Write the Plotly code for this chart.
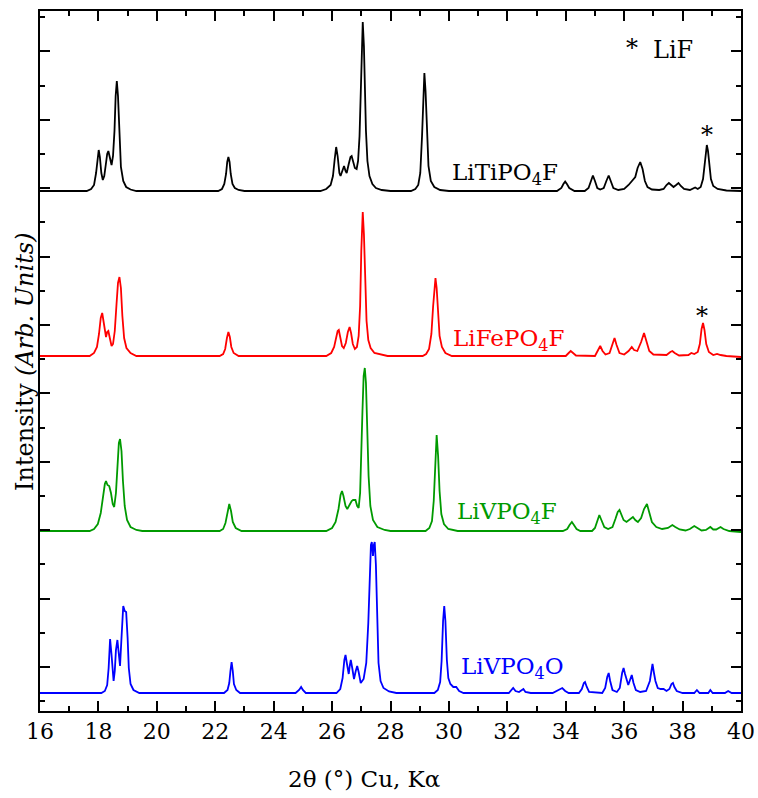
import plotly.graph_objects as go

# ---------------- data ----------------
# 2-theta positions (deg) and intensities above each pattern's own baseline (arb. units)
ti_x = [16.0, 17.6, 17.75, 17.85, 17.92, 17.97, 18.01, 18.05, 18.1, 18.15, 18.2, 18.26, 18.3, 18.34,
        18.39, 18.45, 18.5, 18.55, 18.59, 18.63, 18.67, 18.71, 18.77, 18.85, 18.95, 19.1, 19.3,
        22.1, 22.23, 22.31, 22.37, 22.41, 22.45, 22.49, 22.53, 22.59, 22.67, 22.8, 23.0,
        25.6, 25.8, 25.95, 26.03, 26.09, 26.14, 26.19, 26.25, 26.29, 26.35, 26.41, 26.46, 26.5, 26.57,
        26.63, 26.67, 26.72, 26.78, 26.84, 26.89, 26.94, 26.98, 27.01, 27.05, 27.09, 27.12, 27.16,
        27.21, 27.28, 27.38, 27.5, 27.7, 28.0,
        28.7, 28.85, 28.95, 29.02, 29.08, 29.12, 29.16, 29.2, 29.24, 29.3, 29.38, 29.5, 29.7, 30.0,
        33.7, 33.85, 33.92, 33.98, 34.04, 34.12, 34.3,
        34.65, 34.78, 34.86, 34.93, 35.0, 35.08, 35.18, 35.3, 35.39, 35.47, 35.54, 35.63, 35.8,
        36.0, 36.15, 36.28, 36.38, 36.46, 36.55, 36.63, 36.71, 36.8, 36.95, 37.2,
        37.35, 37.45, 37.53, 37.61, 37.69, 37.78, 37.86, 37.94, 38.05, 38.25,
        38.35, 38.43, 38.52, 38.62, 38.7, 38.75, 38.79, 38.83, 38.87, 38.91, 38.97, 39.05, 39.2,
        39.5, 40.0]
ti_y = [0, 0, 2, 6, 18, 35, 41, 34, 18, 11, 15, 28, 37, 40,
        32, 26, 35, 60, 95, 110, 95, 58, 24, 10, 4, 1.5, 0,
        0, 2, 7, 17, 29, 34, 29, 17, 7, 3, 1, 0,
        0, 2, 6, 15, 32, 44, 35, 18, 15, 21, 25, 20, 18, 27,
        34, 35, 29, 23, 22, 30, 55, 100, 145, 169, 145, 105, 60,
        30, 15, 7, 3, 1, 0,
        0, 2, 6, 18, 55, 98, 118, 100, 60, 25, 10, 4, 1, 0,
        0, 3, 7, 9.5, 7, 3, 0,
        0, 3, 10, 15.5, 10, 3, 1.5, 3, 10, 15.5, 10, 3, 1,
        2, 6, 10, 14, 23, 29, 22, 10, 4, 1.5, 1,
        2, 6, 8, 6, 4, 6, 8, 5, 2, 1,
        2, 3.5, 2, 4, 12, 27, 41, 46, 40, 26, 12, 5, 2,
        0.5, 0]

fe_x = [16.0, 17.7, 17.85, 17.95, 18.02, 18.08, 18.13, 18.18, 18.23, 18.26, 18.3, 18.34, 18.39, 18.45,
        18.5, 18.56, 18.62, 18.67, 18.72, 18.77, 18.82, 18.88, 18.96, 19.1, 19.3,
        22.15, 22.27, 22.34, 22.4, 22.45, 22.5, 22.55, 22.63, 22.8,
        25.8, 25.97, 26.07, 26.14, 26.19, 26.23, 26.28, 26.34, 26.4, 26.47, 26.54, 26.6, 26.65, 26.71,
        26.78, 26.85, 26.91, 26.96, 27.0, 27.05, 27.09, 27.13, 27.18, 27.24, 27.32, 27.45, 27.7, 27.9,
        29.1, 29.22, 29.32, 29.4, 29.46, 29.5, 29.54, 29.58, 29.62, 29.68, 29.76, 29.88, 30.1,
        34.0, 34.1, 34.17, 34.25, 34.35,
        35.0, 35.1, 35.18, 35.26, 35.36, 35.5, 35.6, 35.67, 35.74, 35.84, 36.0, 36.15, 36.26, 36.34,
        36.45, 36.58, 36.68, 36.76, 36.86, 37.0, 37.45, 37.58, 37.65, 37.73, 37.88,
        38.2, 38.3, 38.4, 38.52, 38.59, 38.65, 38.7, 38.75, 38.81, 38.9, 39.05, 39.18, 39.3, 39.5, 40.0]
fe_y = [0, 0, 3, 9, 22, 38, 43, 33, 20, 19, 24, 25, 18, 10,
        12, 25, 52, 73, 79, 68, 40, 18, 8, 3, 0,
        0, 2, 7, 18, 24, 19, 9, 3, 0,
        0, 3, 9, 19, 25, 26, 20, 10, 8, 13, 24, 29, 23, 12,
        7, 9, 20, 50, 105, 144, 122, 75, 35, 16, 8, 3, 1, 0,
        0, 2, 7, 22, 50, 68, 78, 68, 45, 20, 9, 3, 0,
        0, 3, 5, 3, 0.5,
        0, 5, 10, 5, 1.5, 3, 11, 18, 11, 3, 1.5, 5, 9, 6,
        5, 14, 23, 14, 5, 1.5, 1, 4, 5, 3, 0.5,
        1, 3, 2, 4, 12, 27, 33, 26, 12, 4, 1, 2, 1, 0, -1]

vf_x = [16.0, 17.7, 17.85, 17.98, 18.08, 18.16, 18.22, 18.26, 18.31, 18.37, 18.43, 18.49, 18.54,
        18.6, 18.65, 18.7, 18.74, 18.79, 18.84, 18.9, 18.98, 19.1, 19.3, 19.5,
        22.15, 22.27, 22.35, 22.42, 22.48, 22.54, 22.6, 22.7, 22.9,
        25.8, 26.0, 26.12, 26.22, 26.29, 26.34, 26.39, 26.46, 26.52, 26.6, 26.67, 26.72, 26.8, 26.86,
        26.91, 26.96, 27.0, 27.04, 27.08, 27.12, 27.16, 27.2, 27.25, 27.31, 27.4, 27.55, 27.8, 28.0,
        29.2, 29.33, 29.42, 29.48, 29.53, 29.58, 29.63, 29.68, 29.74, 29.83, 29.98, 30.3,
        33.9, 34.05, 34.13, 34.21, 34.28, 34.37, 34.5,
        34.9, 35.0, 35.08, 35.15, 35.22, 35.32, 35.45, 35.6, 35.7, 35.78, 35.84, 35.9, 35.98,
        36.08, 36.2, 36.3, 36.38, 36.47, 36.58, 36.68, 36.78, 36.86, 36.95, 37.1, 37.3,
        37.5, 37.65, 37.75, 37.9, 38.1, 38.25, 38.4, 38.5, 38.65, 38.8, 38.95, 39.05, 39.15,
        39.3, 39.4, 39.6, 40.0]
vf_y = [0, 0, 2, 7, 18, 36, 47, 50, 46, 45, 38, 27, 24,
        38, 65, 88, 92, 80, 50, 25, 11, 4, 1, 0,
        0, 2, 8, 20, 27, 20, 9, 3, 0,
        0, 3, 9, 22, 36, 40, 35, 25, 22, 26, 30, 31, 31, 25,
        23, 38, 70, 120, 155, 163, 148, 105, 55, 25, 11, 4, 1, 0,
        0, 3, 10, 30, 70, 96, 75, 40, 17, 7, 2, 0,
        0, 2, 6, 9, 6, 2, 0,
        0, 3, 10, 16, 11, 4, 2, 4, 12, 19, 21, 17, 11,
        9, 12, 14, 11, 9, 13, 22, 27, 19, 9, 4, 2,
        3, 6, 4, 1.5, 0.5, 2, 5, 3, 0.5, 1, 4, 1.5, 1.5,
        4, 2, 0, -1]

vo_x = [16.0, 18.1, 18.22, 18.3, 18.35, 18.4, 18.45, 18.49, 18.52, 18.56, 18.6, 18.65, 18.69, 18.74,
        18.79, 18.85, 18.9, 18.95, 19.0, 19.04, 19.1, 19.2, 19.4,
        22.3, 22.42, 22.48, 22.52, 22.56, 22.6, 22.64, 22.72, 22.85,
        24.75, 24.87, 24.94, 25.0, 25.1,
        26.15, 26.28, 26.36, 26.42, 26.46, 26.51, 26.57, 26.61, 26.64, 26.69, 26.75, 26.81, 26.86, 26.91,
        26.98, 27.08, 27.17, 27.24, 27.29, 27.33, 27.36, 27.4, 27.43, 27.46, 27.5, 27.54, 27.59, 27.66,
        27.76, 27.95, 28.2,
        29.5, 29.62, 29.7, 29.75, 29.8, 29.84, 29.88, 29.93, 29.98, 30.05, 30.15, 30.25, 30.35, 30.5,
        32.05, 32.15, 32.2, 32.28, 32.4, 32.5, 32.55, 32.62, 32.8,
        33.55, 33.7, 33.8, 33.88, 33.98, 34.1,
        34.45, 34.55, 34.62, 34.66, 34.72, 34.8,
        35.25, 35.35, 35.42, 35.47, 35.52, 35.6, 35.75, 35.85, 35.93, 35.98, 36.03, 36.08, 36.14,
        36.2, 36.26, 36.32, 36.4, 36.55, 36.75, 36.88, 36.94, 36.97, 37.02, 37.07, 37.15, 37.25,
        37.35, 37.45, 37.55, 37.62, 37.67, 37.72, 37.8, 38.0,
        38.4, 38.49, 38.58, 38.88, 38.95, 39.03, 39.45, 39.56, 39.68, 40.0]
vo_y = [0, 0, 2, 8, 25, 54, 38, 17, 12, 22, 43, 53, 42, 27,
        55, 87, 82, 81, 55, 25, 9, 3, 0,
        0, 3, 10, 22, 31, 22, 9, 3, 0,
        0, 3, 6, 3, 0,
        0, 4, 15, 33, 38, 29, 19, 28, 33, 25, 14, 22, 27, 21,
        10, 14, 30, 70, 120, 148, 151, 137, 148, 151, 128, 75, 30, 12,
        5, 1.5, 0,
        0, 3, 11, 32, 72, 87, 72, 33, 15, 9, 6, 6, 2, 0,
        0, 4, 5, 2, 1, 3, 4, 1, 0,
        0, 2, 4, 5, 2, 0,
        0, 4, 10, 11, 6, 1,
        0, 5, 16, 20, 12, 3, 1, 5, 20, 25, 19, 14, 8,
        13, 18, 10, 3, 1, 2, 12, 26, 29, 20, 12, 5, 4,
        4, 2, 4, 9, 10, 6, 2, 0,
        0, 3, 0, 0, 3, 0, 0, 2, 0, 0]

series_names = ["LiTiPO<sub>4</sub>F", "LiFePO<sub>4</sub>F", "LiVPO<sub>4</sub>F", "LiVPO<sub>4</sub>O"]
series_x = [ti_x, fe_x, vf_x, vo_x]
series_y = [ti_y, fe_y, vf_y, vo_y]
offsets = [520, 355, 180, 18]          # vertical stacking offsets (arb. units)

# LiF impurity marks (2-theta, intensity incl. offset)
lif_x = [38.83, 38.66]
lif_y = [576, 395]

# ---------------- styling ----------------
colors = ["#000000", "#ff0000", "#009a00", "#0000ff"]
label_x = [30.02, 30.06, 30.2, 30.36]
label_y = [537, 371, 198, 43]
FONT = "DejaVu Serif"

fig = go.Figure()
for xs, ys, off, c in zip(series_x, series_y, offsets, colors):
    fig.add_trace(go.Scatter(x=xs, y=[v + off for v in ys], mode="lines",
                             line=dict(color=c, width=1.8), hoverinfo="skip"))

annotations = []
for name, c, lx, ly in zip(series_names, colors, label_x, label_y):
    annotations.append(dict(x=lx, y=ly, xref="x", yref="y", text=name, showarrow=False,
                            xanchor="left", yanchor="middle",
                            font=dict(family=FONT, size=23, color=c)))
for ax_, ay_ in zip(lif_x, lif_y):
    annotations.append(dict(x=ax_, y=ay_, xref="x", yref="y", text="*", showarrow=False,
                            xanchor="center", yanchor="middle",
                            font=dict(family=FONT, size=24, color="black")))
annotations.append(dict(x=36.27, y=663, xref="x", yref="y", text="*", showarrow=False,
                        xanchor="center", yanchor="middle",
                        font=dict(family=FONT, size=24, color="black")))
annotations.append(dict(x=36.93, y=661, xref="x", yref="y", text="LiF", showarrow=False,
                        xanchor="left", yanchor="middle",
                        font=dict(family=FONT, size=24, color="black")))
annotations.append(dict(x=0.4615, y=-0.097, xref="paper", yref="paper",
                        text="2θ (°) Cu, Kα", showarrow=False,
                        xanchor="center", yanchor="middle",
                        font=dict(family=FONT, size=23, color="black")))
annotations.append(dict(x=-0.0214, y=0.5, xref="paper", yref="paper",
                        text="Intensity <i>(Arb. Units)</i>", showarrow=False, textangle=-90,
                        xanchor="center", yanchor="middle",
                        font=dict(family=FONT, size=24, color="black")))

fig.update_layout(
    template="none",
    width=758, height=798, autosize=False,
    margin=dict(l=40, r=17, t=11, b=87, autoexpand=False),
    paper_bgcolor="white", plot_bgcolor="white",
    showlegend=False,
    annotations=annotations,
    xaxis=dict(range=[16, 40], tick0=16, dtick=2, ticks="inside", ticklen=10, tickwidth=1.5,
               tickcolor="black", showline=True, linecolor="black", linewidth=2,
               mirror="allticks", showgrid=False, zeroline=False, automargin=False,
               tickfont=dict(family=FONT, size=22, color="black"),
               minor=dict(dtick=1, ticks="inside", ticklen=5, tickwidth=1.5, tickcolor="black",
                          showgrid=False)),
    yaxis=dict(range=[0, 700], tick0=44, dtick=68.4, ticks="inside", ticklen=10, tickwidth=1.5,
               tickcolor="black", showline=True, linecolor="black", linewidth=2,
               mirror="allticks", showgrid=False, zeroline=False, showticklabels=False,
               automargin=False,
               minor=dict(tick0=9.8, dtick=34.2, ticks="inside", ticklen=5, tickwidth=1.5,
                          tickcolor="black", showgrid=False)),
)

fig.write_html("out.html",
               config={"displayModeBar": False},
               post_script="document.body.style.margin='0px';"
                           "document.documentElement.style.overflow='hidden';")
